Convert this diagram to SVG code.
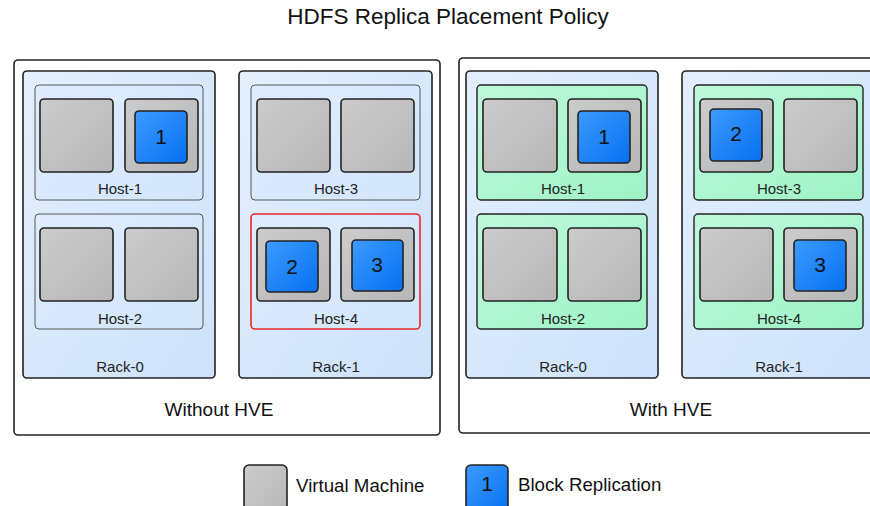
<svg xmlns="http://www.w3.org/2000/svg" width="870" height="506" viewBox="0 0 870 506">
<defs>
<linearGradient id="gRack" x1="0" y1="0" x2="1" y2="1"><stop offset="0" stop-color="#e3effd"/><stop offset="1" stop-color="#cde2fb"/></linearGradient>
<linearGradient id="gHost" x1="0" y1="0" x2="1" y2="1"><stop offset="0" stop-color="#dfecfd"/><stop offset="1" stop-color="#d3e6fc"/></linearGradient>
<linearGradient id="gGreen" x1="0" y1="0" x2="1" y2="1"><stop offset="0" stop-color="#bff9dc"/><stop offset="1" stop-color="#9ef3c6"/></linearGradient>
<linearGradient id="gVM" x1="0" y1="0" x2="1" y2="1"><stop offset="0" stop-color="#cccccc"/><stop offset="1" stop-color="#b6b6b6"/></linearGradient>
<linearGradient id="gBlk" x1="0" y1="0" x2="1" y2="1"><stop offset="0" stop-color="#3d9bff"/><stop offset="1" stop-color="#0670f0"/></linearGradient>
</defs>
<style>
.outer{fill:#fff;stroke:#222;stroke-width:1.6}
.rack{fill:url(#gRack);stroke:#222;stroke-width:1.6}
.host{fill:url(#gHost);stroke:#555;stroke-width:1}
.hostr{fill:url(#gHost);stroke:#e8272b;stroke-width:1.6}
.hostg{fill:url(#gGreen);stroke:#222;stroke-width:1.4}
.vm{fill:url(#gVM);stroke:#222;stroke-width:1.6}
.blk{fill:url(#gBlk);stroke:#222;stroke-width:1.6}
text{font-family:"Liberation Sans",Arial,sans-serif;fill:#111;text-anchor:middle}
.t{font-size:22.5px}
.lbl{font-size:15px;fill:#222}
.num{font-size:21px}
.cap{font-size:19px}
.leg{font-size:18.7px;text-anchor:start}
</style>
<text class="t" x="448" y="24">HDFS Replica Placement Policy</text>

<g id="without-hve">
<rect class="outer" x="14" y="60" width="426" height="375" rx="4"/>
<text class="cap" x="219" y="416">Without HVE</text>
</g>
<g id="with-hve">
<rect class="outer" x="459" y="58" width="430" height="375" rx="4"/>
<text class="cap" x="671" y="416">With HVE</text>
</g>

<g id="l-rack0">
<rect class="rack" x="23" y="71" width="192" height="307" rx="4"/>
<text class="lbl" x="120" y="372">Rack-0</text>
</g>
<g id="l-rack1">
<rect class="rack" x="239" y="71" width="193" height="307" rx="4"/>
<text class="lbl" x="336" y="372">Rack-1</text>
</g>
<g id="r-rack0">
<rect class="rack" x="466" y="71" width="192" height="307" rx="4"/>
<text class="lbl" x="563" y="372">Rack-0</text>
</g>
<g id="r-rack1">
<rect class="rack" x="682" y="71" width="200" height="307" rx="4"/>
<text class="lbl" x="779" y="372">Rack-1</text>
</g>

<g id="l-host1">
<rect class="host" x="35" y="85" width="168" height="115" rx="4"/>
<rect class="vm" x="40" y="99" width="73" height="73" rx="4"/>
<rect class="vm" x="125" y="99" width="73" height="73" rx="4"/>
<rect class="blk" x="135" y="111" width="52" height="52" rx="4"/>
<text class="num" x="161" y="144">1</text>
<text class="lbl" x="120" y="194">Host-1</text>
</g>
<g id="l-host2">
<rect class="host" x="35" y="214" width="168" height="115" rx="4"/>
<rect class="vm" x="40" y="228" width="73" height="73" rx="4"/>
<rect class="vm" x="125" y="228" width="73" height="73" rx="4"/>
<text class="lbl" x="120" y="324">Host-2</text>
</g>
<g id="l-host3">
<rect class="host" x="251" y="85" width="169" height="115" rx="4"/>
<rect class="vm" x="257" y="99" width="73" height="73" rx="4"/>
<rect class="vm" x="341" y="99" width="73" height="73" rx="4"/>
<text class="lbl" x="336" y="194">Host-3</text>
</g>
<g id="l-host4">
<rect class="hostr" x="251" y="214" width="169" height="115" rx="4"/>
<rect class="vm" x="257" y="228" width="73" height="73" rx="4"/>
<rect class="blk" x="266" y="241" width="52" height="51" rx="4"/>
<text class="num" x="292" y="274">2</text>
<rect class="vm" x="341" y="228" width="73" height="73" rx="4"/>
<rect class="blk" x="352" y="240" width="51" height="51" rx="4"/>
<text class="num" x="377" y="272">3</text>
<text class="lbl" x="336" y="324">Host-4</text>
</g>

<g id="r-host1">
<rect class="hostg" x="477" y="85" width="170" height="115" rx="4"/>
<rect class="vm" x="483" y="99" width="74" height="73" rx="4"/>
<rect class="vm" x="568" y="99" width="73" height="73" rx="4"/>
<rect class="blk" x="578" y="111" width="52" height="52" rx="4"/>
<text class="num" x="604" y="144">1</text>
<text class="lbl" x="563" y="194">Host-1</text>
</g>
<g id="r-host2">
<rect class="hostg" x="477" y="214" width="170" height="115" rx="4"/>
<rect class="vm" x="483" y="228" width="74" height="73" rx="4"/>
<rect class="vm" x="568" y="228" width="73" height="73" rx="4"/>
<text class="lbl" x="563" y="324">Host-2</text>
</g>
<g id="r-host3">
<rect class="hostg" x="694" y="85" width="169" height="115" rx="4"/>
<rect class="vm" x="700" y="99" width="73" height="73" rx="4"/>
<rect class="blk" x="710" y="109" width="52" height="52" rx="4"/>
<text class="num" x="736" y="141">2</text>
<rect class="vm" x="784" y="99" width="73" height="73" rx="4"/>
<text class="lbl" x="779" y="194">Host-3</text>
</g>
<g id="r-host4">
<rect class="hostg" x="694" y="214" width="169" height="115" rx="4"/>
<rect class="vm" x="700" y="228" width="73" height="73" rx="4"/>
<rect class="vm" x="784" y="228" width="73" height="73" rx="4"/>
<rect class="blk" x="794" y="240" width="52" height="51" rx="4"/>
<text class="num" x="820" y="272">3</text>
<text class="lbl" x="779" y="324">Host-4</text>
</g>

<g id="legend-vm">
<rect class="vm" x="244" y="465" width="43" height="48" rx="5"/>
<text class="leg" x="296" y="492">Virtual Machine</text>
</g>
<g id="legend-block">
<rect class="blk" x="466" y="465" width="42" height="48" rx="5"/>
<text class="num" x="487" y="491">1</text>
<text class="leg" x="518" y="491">Block Replication</text>
</g>
</svg>
